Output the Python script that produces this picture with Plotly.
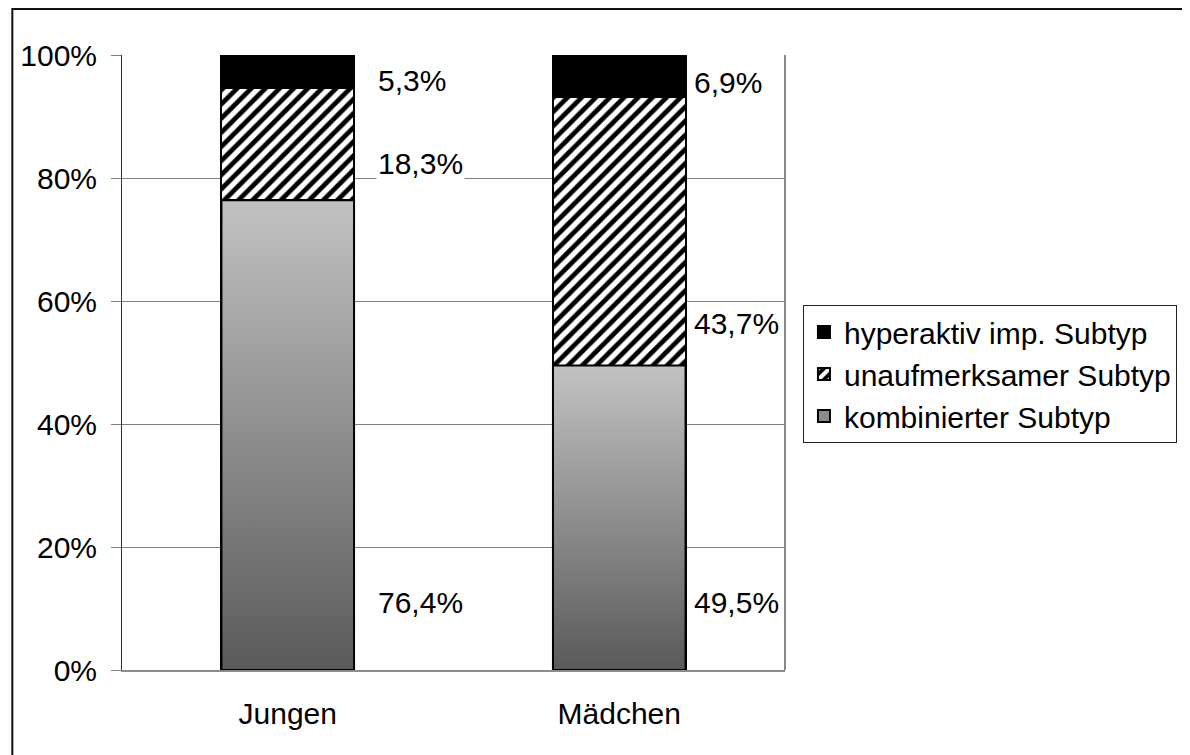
import plotly.graph_objects as go

# Daten (Anteile in %)
kategorien = ["Jungen", "Mädchen"]
kombiniert = [76.4, 49.5]
unaufmerksam = [18.3, 43.7]
hyperaktiv = [5.3, 6.9]
namen = ["kombinierter Subtyp", "unaufmerksamer Subtyp", "hyperaktiv imp. Subtyp"]
y_ticks = [0, 20, 40, 60, 80, 100]

# Position der Beschriftungen (manuell platziert wie im Original)
label_y = [[11.0, 82.3, 95.8], [10.9, 56.4, 95.6]]
label_dx = [22, 6]

# die Seite hat 8px Rand (body margin), daher ist alles um 8px verschoben
W, H = 1182, 747
L, R, T, B = 112, 405, 47, 85
PW, PH = W - L - R, H - T - B
bw = 0.4
font = "Liberation Sans, Arial, sans-serif"
fs = 30

xs = list(range(len(kategorien)))
fig = go.Figure()

# Sockel des Stapels (liefert den Legendeneintrag), darüber der Verlauf
fig.add_trace(go.Bar(x=xs, y=kombiniert, width=bw, name=namen[0],
                     marker=dict(color="#8c8c8c", line=dict(color="black", width=2)),
                     hoverinfo="skip"))
for i, v in enumerate(kombiniert):
    fig.add_trace(go.Scatter(
        x=[i - bw / 2, i + bw / 2, i + bw / 2, i - bw / 2, i - bw / 2],
        y=[0, 0, v, v, 0], mode="lines", fill="toself",
        fillgradient=dict(type="vertical", colorscale=[[0, "#5a5a5a"], [1, "#c2c2c2"]]),
        line=dict(color="black", width=2), showlegend=False, hoverinfo="skip"))

fig.add_trace(go.Bar(x=xs, y=unaufmerksam, width=bw, name=namen[1],
                     marker=dict(color="black", line=dict(color="black", width=2),
                                 pattern=dict(shape="/", bgcolor="black", fgcolor="white",
                                              fgopacity=1, size=10, solidity=0.52))))
fig.add_trace(go.Bar(x=xs, y=hyperaktiv, width=bw, name=namen[2],
                     marker=dict(color="black", line=dict(color="black", width=2))))

# Beschriftungen rechts neben den Säulen
for i in xs:
    for val, yy in zip([kombiniert[i], unaufmerksam[i], hyperaktiv[i]], label_y[i]):
        fig.add_annotation(x=i + bw / 2, y=yy, xref="x", yref="y",
                           text=f"{val:.1f}%".replace(".", ","), showarrow=False,
                           xanchor="left", yanchor="middle", xshift=label_dx[i],
                           bgcolor="white", font=dict(size=fs, color="black"))

# Rahmen
fig.add_shape(type="line", xref="paper", yref="paper", x0=1, x1=1, y0=0, y1=1,
              line=dict(color="#888888", width=2))
fig.add_shape(type="rect", xref="paper", yref="paper",
              x0=(2 - L) / PW, x1=2, y0=-1, y1=(H - B - 1) / PH,
              line=dict(color="#111111", width=2))

fig.update_layout(
    width=W, height=H, barmode="stack",
    margin=dict(l=L, r=R, t=T, b=B),
    paper_bgcolor="white", plot_bgcolor="white",
    font=dict(family=font, size=fs, color="black"),
    legend=dict(x=(795 - L) / PW, xanchor="left", y=(H - B - 297) / PH, yanchor="top",
                traceorder="reversed", bordercolor="#222222", borderwidth=1,
                font=dict(size=fs), tracegroupgap=0),
    xaxis=dict(range=[-0.5, 1.5], tickvals=xs, ticktext=kategorien, showgrid=False,
               zeroline=False, showline=True, linecolor="#8c8c8c", linewidth=2, ticks="",
               ticklabelstandoff=16),
    yaxis=dict(range=[0, 100], tickvals=y_ticks, ticktext=[f"{v}%" for v in y_ticks],
               showgrid=True, gridcolor="#808080", gridwidth=1, zeroline=False,
               showline=True, linecolor="#333333", linewidth=1, ticks="outside",
               ticklen=10, tickcolor="#808080", ticklabelstandoff=8),
    showlegend=True,
)

fig.write_html("out.html")
